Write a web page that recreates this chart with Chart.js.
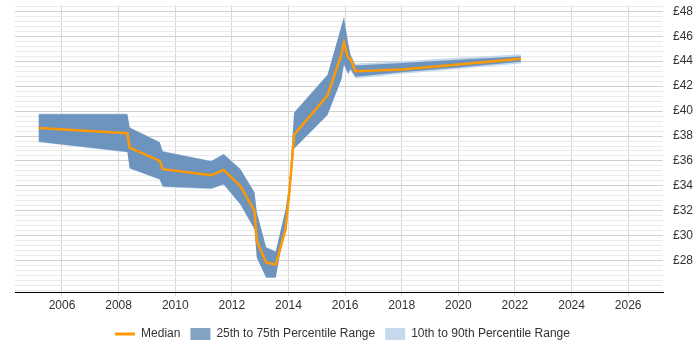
<!DOCTYPE html>
<html><head><meta charset="utf-8">
<script src="https://cdn.jsdelivr.net/npm/chart.js@4.4.1/dist/chart.umd.min.js"></script>
<style>html,body{margin:0;padding:0;background:#fff}#wrap{width:700px;height:350px;position:relative}</style>
</head><body><div id="wrap"><canvas id="c"></canvas></div>
<script>
const years  = [2005.17, 2008.31, 2008.39, 2009.45, 2009.56, 2011.27, 2011.71, 2012.30, 2012.80, 2012.88, 2013.21, 2013.55, 2013.90, 2014.03, 2014.20, 2015.38, 2015.87, 2015.96, 2016.11, 2016.19, 2016.36, 2018.00, 2020.00, 2022.21];
const median = [38.65, 38.22, 37.07, 36.00, 35.34, 34.86, 35.28, 34.00, 32.00, 29.60, 27.87, 27.68, 30.54, 33.47, 38.10, 41.26, 44.54, 45.47, 44.27, 44.19, 43.20, 43.34, 43.74, 44.19];
const p75    = [39.74, 39.74, 38.67, 37.50, 36.75, 35.98, 36.54, 35.34, 33.47, 31.90, 29.07, 28.72, 32.14, 34.14, 39.87, 42.90, 46.80, 47.47, 45.40, 44.50, 43.65, 43.86, 44.12, 44.40];
const p25    = [37.55, 36.72, 35.42, 34.54, 33.95, 33.79, 34.14, 32.54, 30.54, 28.27, 26.67, 26.67, 31.00, 32.94, 37.00, 39.70, 42.54, 43.74, 43.00, 43.40, 42.75, 43.12, 43.50, 43.95];
const p90    = [39.80, 39.80, 38.72, 37.55, 36.80, 36.02, 36.60, 35.40, 33.52, 31.95, 29.12, 28.78, 32.20, 34.20, 39.92, 42.96, 46.86, 47.60, 45.50, 44.60, 43.82, 44.00, 44.27, 44.56];
const p10    = [37.50, 36.67, 35.37, 34.49, 33.90, 33.74, 34.09, 32.49, 30.49, 28.22, 26.62, 26.62, 30.95, 32.89, 36.95, 39.64, 42.48, 43.68, 42.90, 43.25, 42.60, 43.00, 43.38, 43.82];
const xTickYears = [2006, 2008, 2010, 2012, 2014, 2016, 2018, 2020, 2022, 2024, 2026];
const yTickValues = [28, 30, 32, 34, 36, 38, 40, 42, 44, 46, 48];
const seriesLabels = ['Median', '25th to 75th Percentile Range', '10th to 90th Percentile Range'];

const ORANGE = '#ff9900';
const BAND = 'rgba(53,104,161,0.61)';
const LIGHT = '#c6d9ec';
const FONT = '"Liberation Sans", Arial, sans-serif';
const pts = arr => years.map((x, i) => ({x: x, y: arr[i]}));

const isMajor = v => yTickValues.includes(Math.round(v * 10) / 10);

const legendShift = {
  id: 'legendShift',
  beforeDraw: chart => {
    const lg = chart.legend;
    if (lg) { lg.left = 0; lg.right = 685; lg.width = 685; }
  }
};

new Chart(document.getElementById('c'), {
  type: 'line',
  plugins: [legendShift],
  data: {
    datasets: [
      {label: seriesLabels[0], data: pts(median), borderColor: ORANGE, borderWidth: 2.5, pointRadius: 0, fill: false, tension: 0},
      {label: seriesLabels[1], data: pts(p75), borderColor: 'transparent', borderWidth: 0, pointRadius: 0, fill: '+1', backgroundColor: BAND, tension: 0},
      {label: '', data: pts(p25), borderColor: 'transparent', borderWidth: 0, pointRadius: 0, fill: false, tension: 0},
      {label: seriesLabels[2], data: pts(p90), borderColor: 'transparent', borderWidth: 0, pointRadius: 0, fill: '+1', backgroundColor: LIGHT, tension: 0},
      {label: '', data: pts(p10), borderColor: 'transparent', borderWidth: 0, pointRadius: 0, fill: false, tension: 0}
    ]
  },
  options: {
    responsive: true,
    maintainAspectRatio: false,
    animation: false,
    devicePixelRatio: 1,
    layout: {padding: {left: 15, top: 5, right: 0, bottom: 0}},
    plugins: {
      tooltip: {enabled: false},
      legend: {
        position: 'bottom',
        labels: {
          usePointStyle: true,
          pointStyleWidth: 20,
          boxHeight: 12,
          padding: 10,
          color: '#333',
          font: {size: 12, family: FONT},
          generateLabels: chart => {
            const ds = chart.data.datasets;
            return [
              {text: ds[0].label, pointStyle: 'line', strokeStyle: ORANGE, fillStyle: ORANGE, lineWidth: 3, datasetIndex: 0, fontColor: '#333'},
              {text: ds[1].label, pointStyle: 'rect', strokeStyle: BAND, fillStyle: BAND, lineWidth: 0, datasetIndex: 1, fontColor: '#333'},
              {text: ds[3].label, pointStyle: 'rect', strokeStyle: LIGHT, fillStyle: LIGHT, lineWidth: 0, datasetIndex: 3, fontColor: '#333'}
            ];
          }
        }
      }
    },
    scales: {
      x: {
        type: 'linear',
        min: 2004.34,
        max: 2027.23,
        afterBuildTicks: s => { s.ticks = xTickYears.map(v => ({value: v})); },
        afterFit: s => { s.height = 26; },
        ticks: {autoSkip: false, maxRotation: 0, color: '#333', font: {size: 12, family: FONT}, padding: 2, callback: v => String(v)},
        grid: {color: '#d8d8d8', drawTicks: true, tickLength: 4},
        border: {color: '#000', width: 1}
      },
      y: {
        position: 'right',
        min: 25.5,
        max: 48.5,
        afterBuildTicks: s => {
          const t = [];
          for (let k = 0; k <= 57; k++) { t.push({value: Math.round((25.6 + k * 0.4) * 10) / 10}); }
          s.ticks = t;
        },
        afterFit: s => { s.width = 37; s.paddingTop = 0; s.paddingBottom = 0; },
        ticks: {autoSkip: false, color: '#333', font: {size: 12, family: FONT}, padding: 10,
          callback: v => isMajor(v) ? '£' + Math.round(v) : ''},
        grid: {drawTicks: false, color: c => (c.tick && isMajor(c.tick.value)) ? '#cfcfcf' : '#ebebeb'},
        border: {display: false}
      }
    }
  }
});
</script>
</body></html>
